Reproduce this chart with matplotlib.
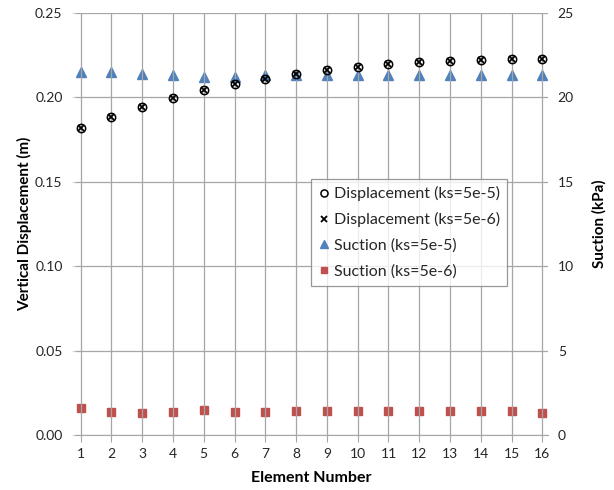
import matplotlib
matplotlib.use('Agg')
import matplotlib.pyplot as plt
import numpy as np

plt.rcParams['font.family'] = ['Lato', 'DejaVu Sans']

# data
elements = np.arange(1, 17)
disp_5e5 = [0.1816, 0.1885, 0.1941, 0.1996, 0.2041, 0.2077, 0.2107, 0.2138,
            0.2161, 0.2181, 0.2195, 0.2209, 0.2215, 0.2221, 0.2229, 0.2229]
disp_5e6 = [0.1816, 0.1885, 0.1941, 0.1996, 0.2041, 0.2077, 0.2107, 0.2138,
            0.2161, 0.2181, 0.2195, 0.2209, 0.2215, 0.2221, 0.2229, 0.2229]
suction_5e5 = [21.5, 21.5, 21.4, 21.3, 21.2, 21.2, 21.3, 21.3,
               21.3, 21.3, 21.3, 21.3, 21.3, 21.3, 21.3, 21.3]
suction_5e6 = [1.59, 1.35, 1.29, 1.35, 1.51, 1.35, 1.35, 1.41,
               1.41, 1.41, 1.41, 1.41, 1.41, 1.41, 1.41, 1.29]

blue = '#4F81BD'
red = '#C0504D'
grid_col = '#A6A6A6'

fig = plt.figure(figsize=(6.14, 4.9), dpi=100)
ax = fig.add_axes([75 / 614, 1 - 435 / 490, 473 / 614, 422 / 490])
ax2 = ax.twinx()

# displacement on left axis
h1, = ax.plot(elements, disp_5e5, linestyle='none', marker='o', markersize=6,
              markerfacecolor='none', markeredgecolor='black', markeredgewidth=1.1,
              label='Displacement (ks=5e-5)', zorder=4)
h2, = ax.plot(elements, disp_5e6, linestyle='none', marker='x', markersize=5,
              color='black', markeredgewidth=1.3,
              label='Displacement (ks=5e-6)', zorder=4)

# suction on right axis
h3, = ax2.plot(elements, suction_5e5, linestyle='none', marker='^', markersize=6.5,
               color=blue, label='Suction (ks=5e-5)')
h4, = ax2.plot(elements, suction_5e6, linestyle='none', marker='s', markersize=5.5,
               color=red, label='Suction (ks=5e-6)')

ax.set_zorder(ax2.get_zorder() + 1)
ax.patch.set_visible(False)

ax.set_xlim(0.82, 16.18)
ax.set_ylim(0, 0.25)
ax2.set_ylim(0, 25)
ax.set_xticks(elements)
ax.set_yticks(np.arange(0, 0.2501, 0.05))
ax.set_yticklabels([f'{v:.2f}' for v in np.arange(0, 0.2501, 0.05)])
ax2.set_yticks(np.arange(0, 26, 5))

ax2.grid(True, axis='y', color=grid_col, linewidth=0.9)
ax2.set_axisbelow(True)
ax.grid(True, axis='x', color=grid_col, linewidth=0.9)

for a in (ax, ax2):
    for s in ['top', 'left', 'right']:
        a.spines[s].set_visible(False)
    a.spines['bottom'].set_color(grid_col)
ax2.spines['bottom'].set_visible(False)

ax.tick_params(axis='y', length=2, labelsize=10, pad=7, colors='#262626')
ax.tick_params(axis='y', color='#D9D9D9')
ax2.tick_params(axis='y', length=0, labelsize=10, pad=7, colors='#262626')
ax.tick_params(axis='x', length=5, color=grid_col, labelsize=10, labelcolor='#262626', pad=4)

ax.set_xlabel('Element Number', fontsize=11.5, fontweight='bold', labelpad=8)
ax.set_ylabel('Vertical Displacement (m)', fontsize=11, fontweight='bold', labelpad=2)
ax2.set_ylabel('Suction (kPa)', fontsize=11, fontweight='bold', labelpad=13)

leg = ax.legend(handles=[h1, h2, h3, h4], loc='upper left',
                bbox_to_anchor=((311 - 75) / 473, (435 - 179) / 422),
                fontsize=11.5, frameon=True, fancybox=False, borderpad=0.45,
                handlelength=0.7, handletextpad=0.3, labelspacing=0.7,
                markerscale=0.85, borderaxespad=0)
leg.get_frame().set_edgecolor('#7F7F7F')
leg.get_frame().set_linewidth(0.9)
for t in leg.get_texts():
    t.set_color('#262626')

plt.savefig('out.png', dpi=100)
